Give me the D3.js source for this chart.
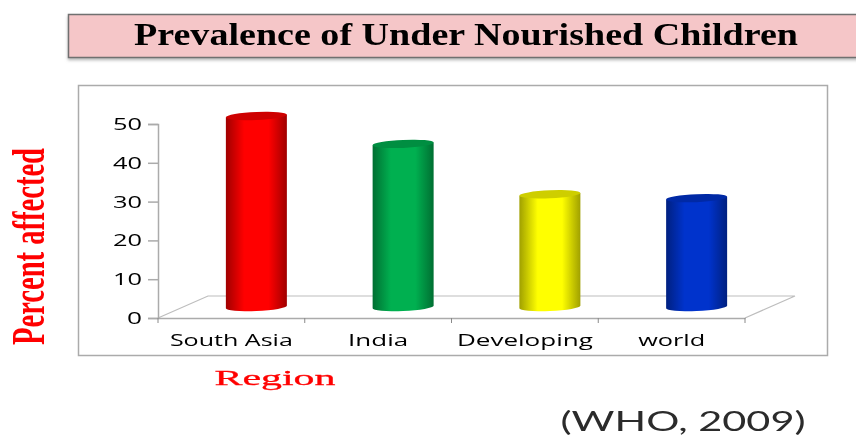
<!DOCTYPE html>
<html>
<head>
<meta charset="utf-8">
<script src="https://cdnjs.cloudflare.com/ajax/libs/d3/7.8.5/d3.min.js"></script>
<style>
  html, body { margin: 0; padding: 0; background: #fff; overflow: hidden; }
  svg { display: block; filter: blur(0.45px); }
</style>
</head>
<body>
<div id="chart"></div>
<script>
// Data
const regions = ["South Asia", "India", "Developing", "world"];
const percentAffected = [50, 42.7, 29.5, 28.5];
const barColors = ["#ff0000", "#00b050", "#ffff00", "#0033cc"];
const yTicks = [0, 10, 20, 30, 40, 50];
const labelLengths = [123, 60, 136, 67];

const width = 856;
const height = 436;

const svg = d3.select("#chart")
    .append("svg")
    .attr("width", width)
    .attr("height", height);

const defs = svg.append("defs");

// Scales
const x = d3.scaleBand().domain(regions).range([158, 745]);
const y = d3.scaleLinear().domain([0, 50]).range([318, 124]);
// bars stand on the floor, further back than the axis
const barY = d3.scaleLinear().domain([0, 50]).range([307, 116]);
const depthX = 25;
const barWidth = 61;
const ry = 4;

// Title box, runs off the right edge
const shadow = defs.append("filter").attr("id", "shadow")
    .attr("x", "-2%").attr("y", "-10%").attr("width", "104%").attr("height", "130%");
shadow.append("feDropShadow")
    .attr("dx", 0).attr("dy", 2).attr("stdDeviation", 1.5)
    .attr("flood-color", "#999").attr("flood-opacity", 0.7);

svg.append("rect")
    .attr("x", 68.5).attr("y", 14.5)
    .attr("width", 800).attr("height", 43)
    .attr("fill", "#f5c6c8")
    .attr("stroke", "#6f6f6f")
    .attr("stroke-width", 1.5)
    .attr("filter", "url(#shadow)");

svg.append("text")
    .attr("x", 466).attr("y", 45)
    .attr("text-anchor", "middle")
    .attr("textLength", 664)
    .attr("lengthAdjust", "spacingAndGlyphs")
    .style("font-family", "'Liberation Serif', serif")
    .style("font-weight", "bold")
    .style("font-size", "31px")
    .style("fill", "#000")
    .text("Prevalence of Under Nourished Children");

// Chart frame
svg.append("rect")
    .attr("x", 78.5).attr("y", 85.5)
    .attr("width", 749).attr("height", 270)
    .attr("fill", "#fff")
    .attr("stroke", "#ababab")
    .attr("stroke-width", 1.5);

// Floor
const [x0, x1] = x.range();
const floorPath = d3.path();
floorPath.moveTo(x0, y(0));
floorPath.lineTo(x0 + 50, y(0) - 22);
floorPath.lineTo(x1 + 50, y(0) - 22);
floorPath.lineTo(x1, y(0));
svg.append("path")
    .attr("d", floorPath.toString())
    .attr("fill", "none")
    .attr("stroke", "#bdbdbd")
    .attr("stroke-width", 1.2);

// Axes
const yAxis = d3.axisLeft(y).tickValues(yTicks).tickSize(10).tickPadding(6);
const yG = svg.append("g")
    .attr("transform", `translate(${x0},0)`)
    .call(yAxis);

const xAxis = d3.axisBottom(x).tickSize(0).tickPadding(16);
const xG = svg.append("g")
    .attr("transform", `translate(0,${y(0)})`)
    .call(xAxis);

// tick marks sit between the categories
xG.selectAll(".sep")
    .data(d3.range(regions.length + 1))
    .enter()
    .append("line")
    .attr("x1", i => x0 + i * x.step())
    .attr("x2", i => x0 + i * x.step())
    .attr("y1", 0)
    .attr("y2", 5)
    .attr("stroke", "#8a8a8a");

svg.selectAll(".domain, .tick line").attr("stroke", "#ababab").attr("stroke-width", 1.5);

yG.selectAll("text")
    .attr("textLength", d => d === 0 ? 15 : 29)
    .attr("lengthAdjust", "spacingAndGlyphs")
    .style("font-family", "'Open Sans', sans-serif")
    .style("font-size", "17px")
    .style("fill", "#000");

xG.selectAll("text")
    .attr("textLength", (d, i) => labelLengths[i])
    .attr("lengthAdjust", "spacingAndGlyphs")
    .style("font-family", "'Open Sans', sans-serif")
    .style("font-size", "17px")
    .style("fill", "#000");

// Cylinders
barColors.forEach((c, i) => {
    const dark = d3.color(c).darker(1.3);
    const grad = defs.append("linearGradient").attr("id", `cyl${i}`);
    grad.append("stop").attr("offset", "0%").attr("stop-color", dark);
    grad.append("stop").attr("offset", "30%").attr("stop-color", c);
    grad.append("stop").attr("offset", "70%").attr("stop-color", c);
    grad.append("stop").attr("offset", "100%").attr("stop-color", dark);
});

const bars = svg.selectAll(".bar")
    .data(regions.map((r, i) => ({ region: r, value: percentAffected[i], i })))
    .enter()
    .append("g")
    .attr("class", "bar")
    .attr("transform", d => {
        const cx = x(d.region) + x.bandwidth() / 2 + depthX;
        return `translate(${cx},${barY(0)}) skewY(-2.5)`;
    });

bars.append("path")
    .attr("d", d => {
        const h = barY(0) - barY(d.value);
        const r = barWidth / 2;
        return `M${-r},${-h}L${-r},0A${r},${ry} 0 0 0 ${r},0L${r},${-h}Z`;
    })
    .attr("fill", d => `url(#cyl${d.i})`);

bars.append("ellipse")
    .attr("cx", 0)
    .attr("cy", d => barY(d.value) - barY(0))
    .attr("rx", barWidth / 2)
    .attr("ry", ry)
    .attr("fill", d => d3.color(barColors[d.i]).darker(0.6));

// Axis titles
svg.append("text")
    .attr("transform", "translate(44,246.5) rotate(-90)")
    .attr("text-anchor", "middle")
    .attr("textLength", 197)
    .attr("lengthAdjust", "spacingAndGlyphs")
    .style("font-family", "'Liberation Serif', serif")
    .style("font-weight", "bold")
    .style("font-size", "46px")
    .style("fill", "#ff0000")
    .text("Percent affected");

svg.append("text")
    .attr("x", 275).attr("y", 385)
    .attr("text-anchor", "middle")
    .attr("textLength", 121)
    .attr("lengthAdjust", "spacingAndGlyphs")
    .style("font-family", "'Liberation Serif', serif")
    .style("font-size", "21px")
    .style("fill", "#ff0000")
    .style("stroke", "#ff0000")
    .style("stroke-width", 0.3)
    .text("Region");

// Source note
svg.append("text")
    .attr("x", 683).attr("y", 431)
    .attr("text-anchor", "middle")
    .attr("textLength", 245)
    .attr("lengthAdjust", "spacingAndGlyphs")
    .style("font-family", "Lato, sans-serif")
    .style("font-size", "27px")
    .style("fill", "#2b2b2b")
    .text("(WHO, 2009)");
</script>
</body>
</html>
